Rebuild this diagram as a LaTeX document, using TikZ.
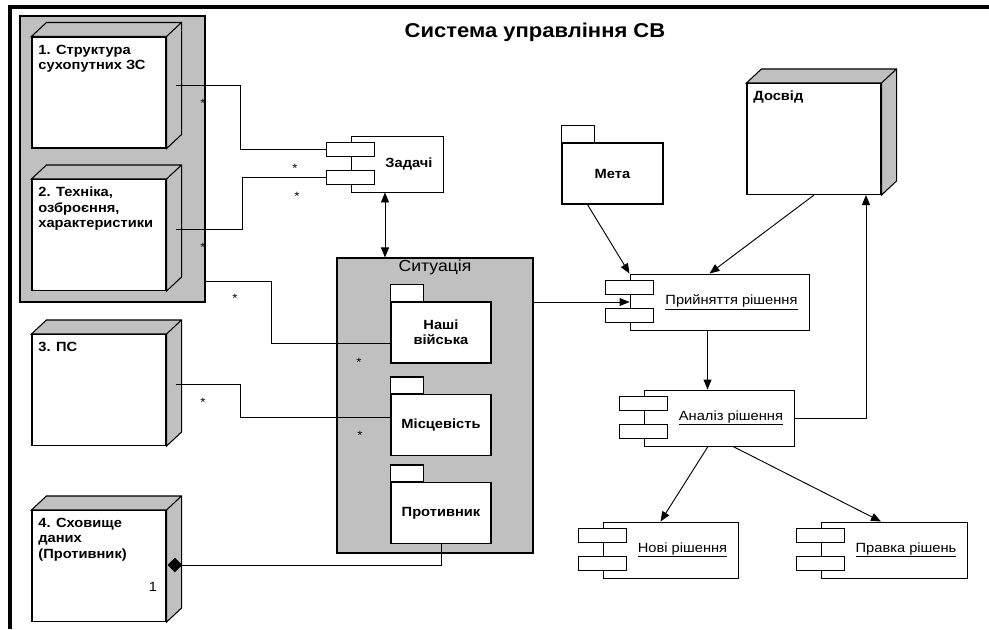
\documentclass[tikz,border=0pt]{standalone}
\usepackage{fontspec}
\setmainfont{Liberation Sans}[FakeStretch=1.1]
\usepackage{tikz}
\usetikzlibrary{arrows.meta}
\definecolor{boxgrey}{HTML}{C0C0C0}

\begin{document}
\begin{tikzpicture}[x=0.75pt, y=-0.75pt, >={Triangle[length=7.5pt, width=6pt]},
    cube/.style={draw, fill=white, line width=0.8pt, minimum width=100.5pt, minimum height=83.25pt, inner sep=0pt},
    cubelabel/.style={anchor=north west, align=left, inner sep=0pt, xshift=5pt, yshift=-6pt, font=\fontsize{10}{11.5}\selectfont\bfseries},
    grp/.style={draw, fill=boxgrey, line width=0.8pt, inner sep=0pt},
    pkg/.style={draw, fill=white, line width=0.8pt, minimum width=75pt, minimum height=45.75pt, inner sep=0pt, align=center, font=\fontsize{10}{11.5}\selectfont\bfseries},
    comp/.style={draw, fill=white, line width=0.7pt, minimum height=42pt, inner sep=0pt, execute at begin node=\hspace*{18pt}, font=\fontsize{10}{12}\selectfont},
    port/.style={draw, fill=white, line width=0.7pt},
    conn/.style={line width=0.6pt},
    arr/.style={line width=0.7pt},
    mult/.style={font=\fontsize{9}{9}\selectfont, inner sep=0pt}]
    \useasboundingbox (0,0) rectangle (989,629);
    \draw[line width=2.4pt] (989,7) -- (10,7) -- (10,629);

    \node[font=\fontsize{15}{17}\selectfont\bfseries] (title) at (535,32) {Система управління СВ};

    \node[grp, minimum width=138.75pt, minimum height=214.5pt] (grp) at (112.5,159) {};
    \node[cube, label={[cubelabel]north west:1. Структура\\сухопутних ЗС}] (str) at (99,92.5) {};
    \node[cube, label={[cubelabel]north west:2. Техніка,\\озброєння,\\характеристики}] (tech) at (99,235) {};
    \node[cube, label={[cubelabel]north west:3. ПС}] (ps) at (99,390) {};
    \node[cube, label={[cubelabel]north west:4. Сховище\\даних\\(Противник)}] (store) at (99,566) {};
    \node[cube, label={[cubelabel]north west:Досвід}] (exp) at (814,139) {};
    \foreach \n in {str,tech,ps,store,exp}
        \draw[fill=boxgrey, line width=0.8pt] (\n.north west) -- ([shift={(15,-14)}]\n.north west)
            -- ([shift={(15,-14)}]\n.north east) -- ([shift={(15,-14)}]\n.south east)
            -- (\n.south east) -- (\n.north east) -- cycle
            (\n.north east) -- ([shift={(15,-14)}]\n.north east);
    \node[font=\fontsize{10}{12}\selectfont] (one) at (153,587) {1};

    \node[grp, minimum width=147pt, minimum height=221.25pt,
        label={[font=\fontsize{12}{14}\selectfont, anchor=north, inner sep=0pt, yshift=-2pt]north:Ситуація}] (sit) at (435,405.5) {};
    \node[pkg] (nash) at (441,332.5) {Наші\\війська};
    \node[pkg] (mis) at (441,425) {Місцевість};
    \node[pkg] (prot) at (441,513) {Противник};
    \node[pkg, minimum width=75.75pt] (meta) at (612.5,173.5) {Мета};
    \foreach \p in {nash,mis,prot,meta}
        \draw[fill=white, line width=0.8pt] (\p.north west) rectangle ++(33,-17);

    \node[comp, minimum width=69pt, font=\fontsize{10}{12}\selectfont\bfseries] (tasks) at (397,164) {Задачі};
    \node[comp, minimum width=134.25pt] (accept) at (719.5,302) {\underline{Прийняття рішення}};
    \node[comp, minimum width=112.5pt] (anal) at (719,418) {\underline{Аналіз рішення}};
    \node[comp, minimum width=101.25pt] (newsol) at (670.5,550) {\underline{Нові рішення}};
    \node[comp, minimum width=109.5pt] (fix) at (894,550) {\underline{Правка рішень}};
    \foreach \c in {tasks,accept,anal,newsol,fix} {
        \draw[port] ([shift={(-24,7)}]\c.north west) rectangle ++(48,14);
        \draw[port] ([shift={(-24,35)}]\c.north west) rectangle ++(48,14);
    }

    \node[mult] (m1) at (203,103) {*};
    \node[mult] (m2) at (295,168) {*};
    \node[mult] (m3) at (297,196) {*};
    \node[mult] (m4) at (203,247) {*};
    \node[mult] (m5) at (235,298) {*};
    \node[mult] (m6) at (359,362) {*};
    \node[mult] (m7) at (203,402) {*};
    \node[mult] (m8) at (360,435) {*};

    \draw[conn] ([shift={(9,-7)}]str.east) -- ++(65,0) |- ([shift={(-24,14)}]tasks.north west);
    \draw[conn] ([shift={(9,-6)}]tech.east) -- ++(67,0) |- ([shift={(-24,42)}]tasks.north west);
    \draw[conn] ([shift={(0,-21)}]grp.south east) -- ++(66,0) |- ([shift={(0,10.5)}]nash.west);
    \draw[conn] ([shift={(9,-6)}]ps.east) -- ++(65,0) |- ([shift={(0,-8)}]mis.west);
    \draw[conn, {Diamond[length=11pt, width=11pt]}-] ([shift={(1,-1)}]store.east) -| (prot.south);

    \coordinate (ts) at ([shift={(-12,0)}]tasks.south);
    \coordinate (as) at ([shift={(-12,0)}]accept.south);
    \draw[arr, <->] (ts) -- (ts |- sit.north);
    \draw[arr, ->] (sit.east |- accept.west) -- (accept.west);
    \draw[arr, ->] ([shift={(26,0)}]meta.south west) -- (accept.north west);
    \draw[arr, ->] (exp.south) -- ([shift={(-10,0)}]accept.north);
    \draw[arr, ->] (as) -- (as |- anal.north);
    \draw[arr, ->] (anal.east) -| ([shift={(52,0)}]exp.south);
    \draw[arr, ->] ([shift={(-11,0)}]anal.south) -- ([shift={(-10,0)}]newsol.north);
    \draw[arr, ->] ([shift={(14,0)}]anal.south) -- ([shift={(-13,0)}]fix.north);
\end{tikzpicture}
\end{document}
